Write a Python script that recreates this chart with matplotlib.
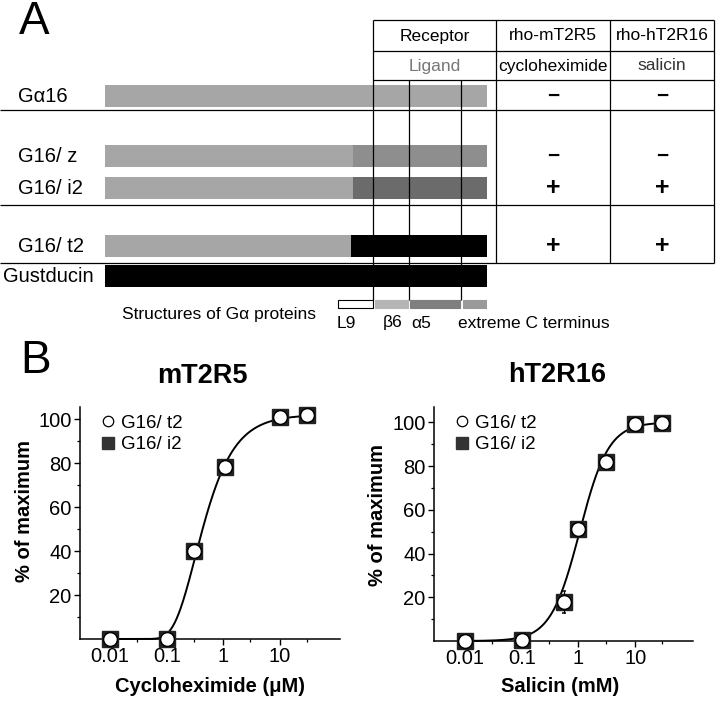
import numpy as np
import matplotlib
matplotlib.use('Agg')
import matplotlib.pyplot as plt
from matplotlib.lines import Line2D
from matplotlib.ticker import FixedLocator, NullFormatter

plt.rcParams['font.family'] = ['Liberation Sans', 'DejaVu Sans']

# ---- panel A: chimeric G alpha proteins (length in % of G alpha16) ----
rows = ['Gα16', 'G16/ z', 'G16/ i2', 'G16/ t2', 'Gustducin']
junction = [100, 65, 65, 64.5, 0]          # where the swapped C-terminal part starts
mt2r5_result = ['−', '−', '+', '+', '']
ht2r16_result = ['−', '−', '+', '+', '']

elements = ['L9', 'β6', 'α5', 'extreme C terminus']
element_start = [61, 70.7, 79.8, 93.7]
element_end = [70.2, 79.3, 93.0, 100]
boundaries = [70.2, 79.5, 93.3]

# ---- panel B: dose-response ----
cyclo_conc = [0.01, 0.1, 0.3, 1.05, 10, 30]
cyclo_t2 = [0, 0, 40, 78, 101, 102]
cyclo_i2 = [0, 0, 40, 78, 101, 102]
cyclo_fit = dict(top=102, k=0.32, n=1.15)      # fitted curve

salicin_conc = [0.01, 0.1, 0.55, 1, 3, 10, 30]
salicin_t2 = [0, 0.5, 18, 51, 82, 99, 99.8]
salicin_t2_err = [0, 0, 5, 0, 0, 0, 0]
salicin_i2 = [0, 0.5, 18, 51, 82, 99, 99.8]
salicin_fit = dict(top=100, ec50=1.05, n=1.7)

W, H = 720, 702
fig = plt.figure(figsize=(7.2, 7.02), dpi=100)

# pixel canvas for the table and labels
cv = fig.add_axes([0, 0, 1, 1])
cv.set_xlim(0, W)
cv.set_ylim(H, 0)
cv.axis('off')

# bars axes: x = % of protein length, y = pixels
bx = fig.add_axes([105 / W, 0, 382 / W, 1])
bx.set_xlim(0, 100)
bx.set_ylim(H, 0)
bx.axis('off')
bx.patch.set_alpha(0)

row_y = [96, 156, 188, 246, 276]
bar_h = 22
n_color = '#a6a6a6'
c_colors = ['#a6a6a6', '#8e8e8e', '#6b6b6b', 'black', 'black']
col2_x, col3_x = 553, 662
for i, name in enumerate(rows):
    j = junction[i]
    bx.barh(row_y[i], j, left=0, height=bar_h, color=n_color, lw=0)
    bx.barh(row_y[i], 100 - j, left=j, height=bar_h, color=c_colors[i], lw=0)
    cv.text(3 if name == 'Gustducin' else 18, row_y[i], name, fontsize=14.5,
            va='center', ha='left')
    for x, res in [(col2_x, mt2r5_result[i]), (col3_x, ht2r16_result[i])]:
        cv.text(x, row_y[i], res, fontsize=15 if res == '−' else 18, weight='bold',
                va='center', ha='center')

el_colors = ['white', '#b5b5b5', '#7f7f7f', '#9a9a9a']
for i in range(len(elements)):
    bx.barh(304, element_end[i] - element_start[i], left=element_start[i], height=8,
            color=el_colors[i], edgecolor='black' if i == 0 else el_colors[i], lw=0.8)
label_x = [337, 383, 411, 458]
for lab, x in zip(elements, label_x):
    cv.text(x, 323, lab, fontsize=12.5, va='center', ha='left')
cv.text(122, 314, 'Structures of Gα proteins', fontsize=12.5, va='center', ha='left')

bx.vlines(boundaries, [20, 80, 80], 300, color='black', lw=0.9, zorder=5)

# table lines
lw = 0.9
cv.hlines([20, 51, 80], 373, 714, color='black', lw=lw)
cv.hlines([110, 205, 263], 0, 714, color='black', lw=lw)
cv.vlines([496, 610, 714], 20, 263, color='black', lw=lw)
hdr = dict(fontsize=12.5, va='center', ha='center')
cv.text(435, 36, 'Receptor', **hdr)
cv.text(col2_x, 36, 'rho-mT2R5', **hdr)
cv.text(col3_x, 36, 'rho-hT2R16', **hdr)
cv.text(435, 66, 'Ligand', color='#777777', **hdr)
cv.text(col2_x, 66, 'cycloheximide', **hdr)
cv.text(col3_x, 66, 'salicin', color='#333333', **hdr)

cv.text(19, 22, 'A', fontsize=33, va='center', ha='left')
cv.text(20, 361, 'B', fontsize=33, va='center', ha='left')


def dose_axes(rect, xlim, ylim):
    ax = fig.add_axes(rect)
    ax.patch.set_alpha(0)
    ax.set_xscale('log')
    ax.set_xlim(*xlim)
    ax.set_ylim(*ylim)
    for s in ['top', 'right']:
        ax.spines[s].set_visible(False)
    for s in ['left', 'bottom']:
        ax.spines[s].set_linewidth(1.1)
    ax.xaxis.set_major_locator(FixedLocator([0.01, 0.1, 1, 10]))
    ax.set_xticklabels(['0.01', '0.1', '1', '10'])
    ax.xaxis.set_minor_locator(FixedLocator([0.03, 0.3, 3, 30]))
    ax.xaxis.set_minor_formatter(NullFormatter())
    ax.set_yticks([20, 40, 60, 80, 100])
    ax.set_yticks([10, 30, 50, 70, 90], minor=True)
    ax.tick_params(which='major', labelsize=14.5, length=4, width=1, direction='out', pad=2)
    ax.tick_params(which='minor', length=2.5, width=0.9, direction='out')
    return ax


def draw(ax, conc, t2, i2, fit_x, fit_y, err=None):
    ax.plot(fit_x, fit_y, color='black', lw=1.4, zorder=2, clip_on=False)
    ax.plot(conc, i2, 's', ms=11.5, color='#222222', zorder=3, clip_on=False)
    ax.errorbar(conc, t2, yerr=err, fmt='o', ms=10, mfc='white', mec='black', mew=1.1,
                ecolor='black', elinewidth=0.9, capsize=1.5, zorder=4, clip_on=False)
    handles = [Line2D([], [], marker='o', ls='none', ms=7.5, mfc='white', mec='black', mew=0.9),
               Line2D([], [], marker='s', ls='none', ms=8, color='#333333')]
    ax.legend(handles, ['G16/ t2', 'G16/ i2'], loc='upper left', bbox_to_anchor=(0.045, 1.0),
              frameon=False, fontsize=13.5, handletextpad=0.25, labelspacing=0.25,
              handlelength=0.9, borderaxespad=0)


# left: mT2R5 / cycloheximide
ax1 = dose_axes([80 / W, (H - 639) / H, 260 / W, 232 / H], (10 ** -2.529, 10 ** 2.056), (0, 105.5))
xf = np.logspace(-2, np.log10(30), 300)
yf = cyclo_fit['top'] * np.exp(-(cyclo_fit['k'] / xf) ** cyclo_fit['n'])
draw(ax1, cyclo_conc, cyclo_t2, cyclo_i2, xf, yf)
ax1.text(0.47, 1.134, 'mT2R5', transform=ax1.transAxes, fontsize=19.5, weight='bold',
         ha='center', va='center')
ax1.set_xlabel('Cycloheximide (μM)', fontsize=14.5, weight='bold')
ax1.xaxis.set_label_coords(0.5, -0.165)
ax1.set_ylabel('% of maximum', fontsize=14.5, weight='bold')
ax1.yaxis.set_label_coords(-0.175, 0.55)

# right: hT2R16 / salicin
ax2 = dose_axes([434 / W, (H - 641) / H, 259 / W, 234 / H], (10 ** -2.547, 10 ** 2.02), (0, 107))
yf2 = salicin_fit['top'] / (1 + (salicin_fit['ec50'] / xf) ** salicin_fit['n'])
draw(ax2, salicin_conc, salicin_t2, salicin_i2, xf, yf2, err=salicin_t2_err)
ax2.text(0.475, 1.137, 'hT2R16', transform=ax2.transAxes, fontsize=19.5, weight='bold',
         ha='center', va='center')
ax2.set_xlabel('Salicin (mM)', fontsize=14.5, weight='bold')
ax2.xaxis.set_label_coords(0.486, -0.155)
ax2.set_ylabel('% of maximum', fontsize=14.5, weight='bold')
ax2.yaxis.set_label_coords(-0.18, 0.54)

fig.savefig('out.png', dpi=100)
